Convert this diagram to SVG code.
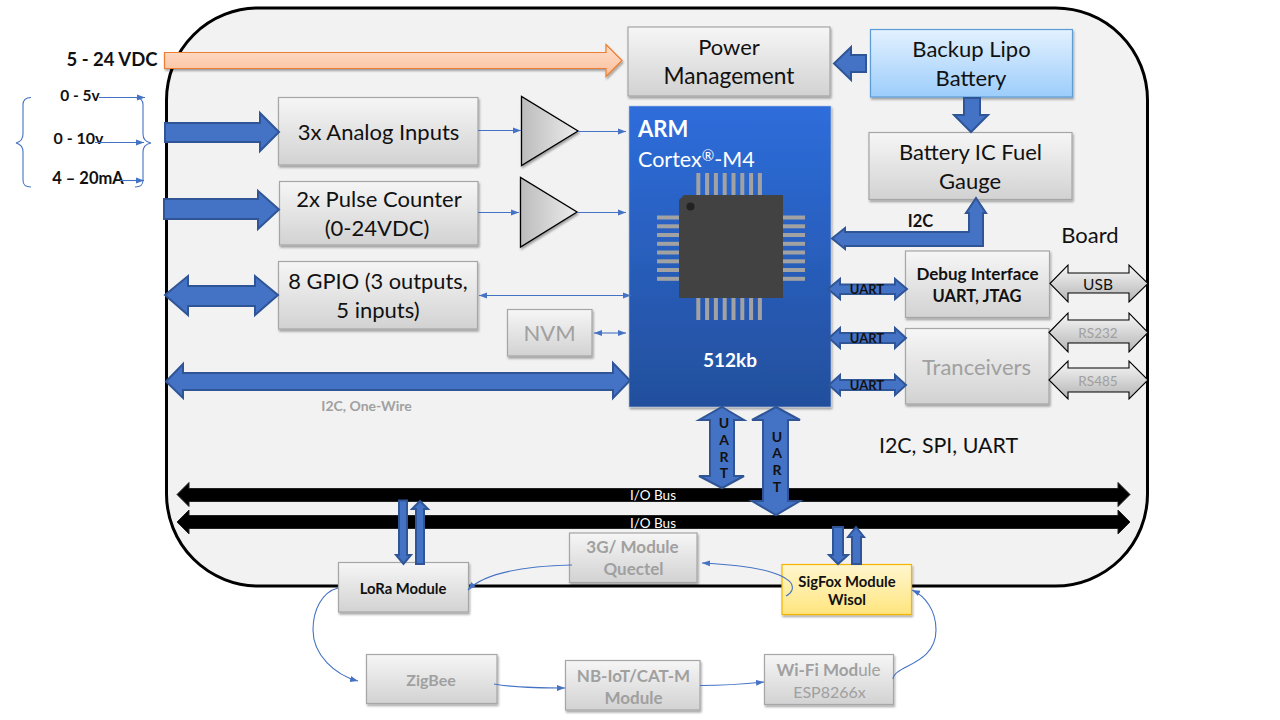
<svg xmlns="http://www.w3.org/2000/svg" width="1280" height="720" viewBox="0 0 1280 720">
<defs>
<linearGradient id="gBox" x1="0" y1="0" x2="0" y2="1"><stop offset="0" stop-color="#f6f6f6"/><stop offset="1" stop-color="#d2d2d2"/></linearGradient>
<linearGradient id="gBlue" x1="0" y1="0" x2="0" y2="1"><stop offset="0" stop-color="#e3f1fe"/><stop offset="1" stop-color="#9ccdfb"/></linearGradient>
<linearGradient id="gYellow" x1="0" y1="0" x2="0" y2="1"><stop offset="0" stop-color="#fff6cf"/><stop offset="1" stop-color="#ffe57e"/></linearGradient>
<linearGradient id="gArm" x1="0" y1="0" x2="0" y2="1"><stop offset="0" stop-color="#2e6ddb"/><stop offset="1" stop-color="#234f9c"/></linearGradient>
<linearGradient id="gOrange" x1="0" y1="0" x2="0" y2="1"><stop offset="0" stop-color="#fedfcd"/><stop offset="1" stop-color="#fbbf9b"/></linearGradient>
<linearGradient id="gTri" x1="0" y1="0" x2="1" y2="0"><stop offset="0" stop-color="#bcbcbc"/><stop offset="1" stop-color="#ececec"/></linearGradient>
<linearGradient id="gGrey" x1="0" y1="0" x2="0" y2="1"><stop offset="0" stop-color="#f8f8f8"/><stop offset="1" stop-color="#b4b4b4"/></linearGradient>
<filter id="sh" x="-10%" y="-10%" width="125%" height="125%"><feDropShadow dx="1" dy="2" stdDeviation="1.2" flood-color="#000" flood-opacity="0.35"/></filter>
<marker id="tip" markerUnits="userSpaceOnUse" markerWidth="9" markerHeight="8" refX="8" refY="4" orient="auto-start-reverse"><path d="M0 1 L8 4 L0 7 Z" fill="#4472c4"/></marker>
</defs>
<style>
text{font-family:"Lato","Open Sans","Liberation Sans",sans-serif;text-anchor:middle;fill:#111}
.box{fill:url(#gBox);stroke:#a6a6a6;stroke-width:1.2;filter:url(#sh)}
.lab{font-size:22px}
.dim{fill:#a0a0a0}
.bold{font-weight:700}
.thick{fill:#4472c4;stroke:#2f5597;stroke-width:2}
.thin{fill:none;stroke:#4472c4;stroke-width:1.1}
.ln{fill:none;stroke:#4472c4;stroke-width:1.1;marker-end:url(#tip)}
.dbl{fill:none;stroke:#4472c4;stroke-width:1.1;marker-end:url(#tip);marker-start:url(#tip)}
.bus{fill:#000;stroke:#222;stroke-width:1;stroke-linejoin:round}
.port{fill:url(#gGrey);stroke:#000;stroke-width:1.1}
.tri{fill:url(#gTri);stroke:#000;stroke-width:1.3;filter:url(#sh)}
.pin{fill:#a2a2a2}
</style>
<rect width="1280" height="720" fill="#fff"/>
<g id="board"><rect x="166.500" y="8" width="981" height="578" rx="92" ry="92" fill="#f2f2f2" stroke="#000" stroke-width="3"/>
<text x="1090" y="243" class="lab">Board</text>
<text x="948.500" y="453" font-size="21.400">I2C, SPI, UART</text>
<text x="366.500" y="411" class="dim bold" font-size="14">I2C, One-Wire</text></g>
<g id="input-labels" font-weight="700">
<text x="112" y="66" font-size="18.500" class="bold">5 - 24 VDC</text>
<text x="80" y="101" font-size="15.500" class="bold">0 - 5v</text>
<text x="78.500" y="144" font-size="16" class="bold">0 - 10v</text>
<text x="88" y="184" font-size="16.500" class="bold">4 – 20mA</text>
</g>
<g id="power"><rect class="box" x="628" y="27" width="202" height="69"/><text x="729" y="55" class="lab">Power</text><text x="729" y="84" font-size="22.700">Management</text></g>
<g id="lipo"><rect class="box" style="fill:url(#gBlue);stroke:#5b9bd5" x="870.500" y="29.500" width="202" height="67.500"/><text x="971.500" y="57" class="lab">Backup Lipo</text><text x="971" y="86" class="lab">Battery</text></g>
<g id="gauge"><rect class="box" x="869" y="132.500" width="203" height="67"/><text x="970.500" y="160" class="lab">Battery IC Fuel</text><text x="970" y="189" class="lab">Gauge</text></g>
<g id="analog"><rect class="box" x="278.500" y="97.500" width="199.500" height="67.500"/><text x="378.500" y="140" class="lab">3x Analog Inputs</text></g>
<g id="pulse"><rect class="box" x="279.500" y="181.500" width="198.500" height="63.500"/><text x="379" y="207" class="lab">2x Pulse Counter</text><text x="377" y="236" class="lab">(0-24VDC)</text></g>
<g id="gpio"><rect class="box" x="278.500" y="261.500" width="199" height="67.500"/><text x="378" y="289" font-size="21.800">8 GPIO (3 outputs,</text><text x="378" y="318" class="lab">5 inputs)</text></g>
<g id="amp1"><path class="tri" d="M521.500 96.500V165.500L578 131Z"/></g>
<g id="amp2"><path class="tri" d="M520.500 177.500V247L577 212Z"/></g>
<g id="nvm"><rect class="box" x="507.500" y="309.500" width="84.500" height="46.500"/><text x="549.500" y="341" class="lab dim">NVM</text></g>
<g id="arm"><rect x="629" y="106" width="202" height="301" fill="url(#gArm)" stroke="#b5c3dc" stroke-width="0.600" filter="url(#sh)"/>
<g class="pin"><rect x="696.300" y="173" width="4" height="22"/><rect x="705.100" y="173" width="4" height="22"/><rect x="713.900" y="173" width="4" height="22"/><rect x="722.700" y="173" width="4" height="22"/><rect x="731.500" y="173" width="4" height="22"/><rect x="740.300" y="173" width="4" height="22"/><rect x="749.100" y="173" width="4" height="22"/><rect x="757.900" y="173" width="4" height="22"/>
<rect x="696.300" y="298" width="4" height="22"/><rect x="705.100" y="298" width="4" height="22"/><rect x="713.900" y="298" width="4" height="22"/><rect x="722.700" y="298" width="4" height="22"/><rect x="731.500" y="298" width="4" height="22"/><rect x="740.300" y="298" width="4" height="22"/><rect x="749.100" y="298" width="4" height="22"/><rect x="757.900" y="298" width="4" height="22"/>
<rect x="657" y="215.500" width="22" height="4"/><rect x="657" y="224.300" width="22" height="4"/><rect x="657" y="233" width="22" height="4"/><rect x="657" y="241.800" width="22" height="4"/><rect x="657" y="250.500" width="22" height="4"/><rect x="657" y="259.300" width="22" height="4"/><rect x="657" y="268" width="22" height="4"/><rect x="657" y="276.800" width="22" height="4"/>
<rect x="783" y="215.500" width="22" height="4"/><rect x="783" y="224.300" width="22" height="4"/><rect x="783" y="233" width="22" height="4"/><rect x="783" y="241.800" width="22" height="4"/><rect x="783" y="250.500" width="22" height="4"/><rect x="783" y="259.300" width="22" height="4"/><rect x="783" y="268" width="22" height="4"/><rect x="783" y="276.800" width="22" height="4"/></g>
<path d="M684 195H783V298H679V200Z" fill="#424242"/><circle cx="690.500" cy="206.500" r="4" fill="#222"/>
<text x="638" y="137" style="text-anchor:start;fill:#fff" font-size="22" font-weight="700">ARM</text>
<text x="638" y="167" style="text-anchor:start;fill:#fff" font-size="21.500">Cortex<tspan font-size="15" dy="-6">®</tspan><tspan dy="6">-M4</tspan></text>
<text x="730" y="367" style="fill:#fff" font-size="19" font-weight="700">512kb</text></g>
<g id="debug"><rect class="box" x="905.500" y="251" width="144" height="66.500"/><text x="977.500" y="280" font-size="17" class="bold">Debug Interface</text><text x="977" y="302" font-size="16.500" class="bold">UART, JTAG</text></g>
<g id="tranceivers"><rect class="box" x="905.500" y="328.500" width="143.500" height="75.500"/><text x="976.500" y="375" class="lab dim">Tranceivers</text></g>
<g id="lora"><rect class="box" x="338.500" y="562.500" width="130" height="49.500"/><text x="403" y="594" font-size="14.800" class="bold">LoRa Module</text></g>
<g id="g3"><rect class="box" x="569.500" y="533" width="127.500" height="49.500"/><text x="632.500" y="553" font-size="17" class="dim bold">3G/ Module</text><text x="633.500" y="575" font-size="17" class="dim bold">Quectel</text></g>
<g id="sigfox"><rect class="box" style="fill:url(#gYellow);stroke:#f4b400" x="782" y="564.500" width="129.500" height="50"/><text x="847" y="587" font-size="14.800" class="bold">SigFox Module</text><text x="847" y="605" font-size="14.800" class="bold">Wisol</text></g>
<g id="zigbee"><rect class="box" x="366.500" y="654.500" width="130.500" height="49"/><text x="431" y="686" font-size="16" class="dim bold">ZigBee</text></g>
<g id="nbiot"><rect class="box" x="565.500" y="660.500" width="134.500" height="49.500"/><text x="633.500" y="682" font-size="17" class="dim bold">NB-IoT/CAT-M</text><text x="633.500" y="704" font-size="17" class="dim bold">Module</text></g>
<g id="wifi"><rect class="box" x="764.500" y="654.500" width="129" height="50"/><text x="828.500" y="676" font-size="17" class="dim"><tspan font-weight="700">Wi-Fi Mod</tspan>ule</text><text x="829.500" y="698" font-size="16" class="dim">ESP8266x</text></g>
<g id="connectors">
<path d="M164.500 52.500H606V44.500L622 60.500L606 76.500V68.500H164.500Z" fill="url(#gOrange)" stroke="#ed7d31" stroke-width="1.200" filter="url(#sh)"/>
<path class="thick" d="M851 55V47L834 63.500L851 80V72H866V55Z"/>
<path class="thick" d="M964 98H980V115H988L971 132L954 115H964Z"/>
<path class="thick" d="M165 123H260V113L279 132L260 151V142H165Z"/>
<path class="thick" d="M164 199H258V191L279 209.500L258 229V219H164Z"/>
<path class="thick" d="M165 295L188 276V286H255V276L278 295L255 315V306H188V315Z"/>
<path class="thick" d="M166 381.500L183 364V373H613V363L630 380.500L613 398V390H183V398Z"/>
<path class="thick" d="M832 238.500L845 228V232H969V213H966L976 198L986 213H983V246H845V249Z"/>
<path class="thick" d="M828 289L840 279V284.500H895V279L907 289L895 299V294H840V299Z"/>
<path class="thick" d="M829 338L840 328V333H895V328L906 338L895 348V343H840V348Z"/>
<path class="thick" d="M829 385L840 375V380H895V375L906 385L895 395V390H840V395Z"/>
<path class="port" d="M1050 283.500L1068 265V273H1129V265L1148 283.500L1129 302V293H1068V302Z"/>
<path class="port" d="M1049 332.500L1068 313V320H1129V313L1148 332.500L1129 352V343H1068V352Z"/>
<path class="port" d="M1049 380L1068 361V368H1129V361L1148 380L1129 399V392H1068V399Z"/>
<path class="bus" d="M177 494.500L189 482.500V488.500H1118V482.500L1130 494.500L1118 506.500V501.500H189V506.500Z"/>
<path class="bus" d="M177 522L189 510V515.500H1118V510L1130 522L1118 534V528.500H189V534Z"/>
<path class="thick" d="M722 407L744 420H734V476H744L722 488L699 476H710V420H699Z"/>
<path class="thick" d="M776 407L800 420H788V501H800L776 515L752 501H763V420H752Z"/>
<path class="thick" d="M399 500.500H407V555H411L403.500 564L396 555H399Z"/>
<path class="thick" d="M420 501L428 509H424V564H416V509H412Z"/>
<path class="thick" d="M833 527H843V555H848L838 564L829 555H833Z"/>
<path class="thick" d="M856 527L864 537H861V564H852V537H848Z"/>
<path class="thin" d="M31 97.500C25 97.500 23 100 23 105V134C23 139 20 142 16 143C20 144 23 147 23 152V180C23 185 25 187 31 187"/>
<path class="thin" d="M135 97.500C141 97.500 143 100 143 105V134C143 139 146 142 151 143C146 144 143 147 143 152V180C143 185 141 187 135 187"/>
<path class="ln" d="M99 97.500H145"/>
<path class="ln" d="M95 142.500H144"/>
<path class="ln" d="M120 180.500H144"/>
<path class="ln" d="M478 130.500H521"/>
<path class="ln" d="M578 131.500H626"/>
<path class="ln" d="M478 212.500H519"/>
<path class="ln" d="M577 212.500H626"/>
<path class="dbl" d="M479 295.500H631"/>
<path class="dbl" d="M594 333H626"/>
<path class="ln" d="M338 588C322 592 313 610 313 630C313 655 335 675 358 681"/>
<path class="ln" d="M494 684C515 688 540 688 565 688"/>
<path class="ln" d="M700 685.500C722 685.500 745 684 764 682"/>
<path class="ln" d="M893 679C894 665 936 665 936 630C936 610 925 596 912 590"/>
<path class="ln" d="M786 596C792 593 794 588 791 583C780 570 745 565 702 563"/>
<path class="ln" d="M572 565C530 566 485 572 468 590"/>
</g>
<g id="connector-labels">
<text x="867" y="294" font-size="13" class="bold">UART</text>
<text x="867" y="343" font-size="13" class="bold">UART</text>
<text x="867" y="390" font-size="13" class="bold">UART</text>
<text x="920.500" y="227" font-size="16.500" class="bold">I2C</text>
<text x="1098" y="290" font-size="15.500">USB</text>
<text x="1098" y="338" font-size="13.500" class="dim">RS232</text>
<text x="1098" y="386" font-size="13.500" class="dim">RS485</text>
<text x="653" y="500" font-size="13.500" style="fill:#fff">I/O Bus</text>
<text x="653" y="528" font-size="13.500" style="fill:#fff">I/O Bus</text>
<g font-size="14" font-weight="700">
<text x="724" y="428">U</text><text x="724" y="445">A</text><text x="724" y="462">R</text><text x="724" y="478">T</text>
<text x="777" y="442">U</text><text x="777" y="458">A</text><text x="777" y="475">R</text><text x="777" y="492">T</text></g>
</g>
</svg>
